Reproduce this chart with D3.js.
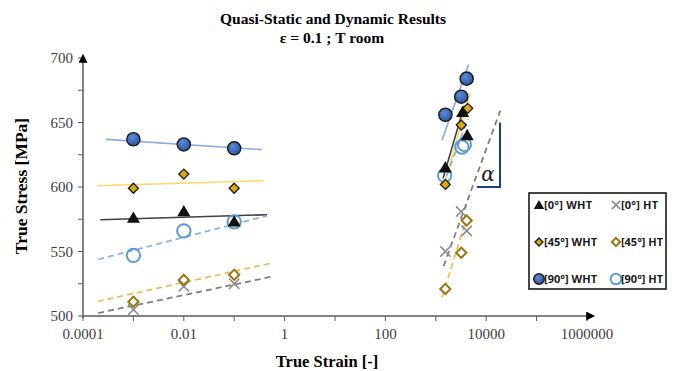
<!DOCTYPE html>
<html>
<head>
<meta charset="utf-8">
<script src="https://cdn.jsdelivr.net/npm/d3@7/dist/d3.min.js"></script>
<style>
  body { margin: 0; background: #fff; }
  text { font-family: "Liberation Serif", "Times New Roman", serif; }
</style>
</head>
<body>
<svg id="chart" width="675" height="371"></svg>
<script>
// ---- data (strain [-], stress [MPa]) ----
var strain0WHT = [0.001, 0.01, 0.1, 1550, 3400, 4200];
var stress0WHT = [576, 581, 573, 615, 658, 640];

var strain0HT = [0.001, 0.01, 0.1, 1550, 3200, 4100];
var stress0HT = [505, 523, 525, 550, 581, 566];

var strain45WHT = [0.001, 0.01, 0.1, 1550, 3200, 4300];
var stress45WHT = [599, 610, 599, 602, 648, 661];

var strain45HT = [0.001, 0.01, 0.1, 1550, 3200, 4100];
var stress45HT = [511, 528, 532, 521, 549, 574];

var strain90WHT = [0.001, 0.01, 0.1, 1550, 3200, 4100];
var stress90WHT = [637, 633, 630, 656, 670, 684];

var strain90HT = [0.001, 0.01, 0.1, 1500, 3300, 3700];
var stress90HT = [547, 566, 573, 609, 631, 633];

// trend lines, as [start, end] pairs for the quasi-static and dynamic ranges
var trend0WHT  = [[[2.2e-4, 574.6], [0.45, 578.5]], [[1390, 606.7], [3670, 663]]];
var trend0HT   = [[[2.0e-4, 502.3], [0.56, 530.5]], [[1430, 538.7], [19000, 659.2]]];
var trend45WHT = [[[1.9e-4, 601],   [0.38, 604.8]], [[1390, 599.2], [4840, 673.3]]];
var trend45HT  = [[[1.95e-4, 511.3], [0.52, 540.8]], [[1330, 514.4], [4470, 581]]];
var trend90WHT = [[[2.86e-4, 636.9], [0.355, 629]], [[1330, 636.2], [4470, 695]]];
var trend90HT  = [[[2.0e-4, 543.8], [0.45, 577.7]], [[1400, 601.5], [4350, 653]]];

// slope triangle beside the dynamic [0 deg] HT trend
var slopeBox = [[6500, 600], [18800, 600], [18800, 650]];
var slopeLabel = [10900, 605];

var xTickLabels = [1e-4, 1e-2, 1, 1e2, 1e4, 1e6];
var yTickLabels = [500, 550, 600, 650, 700];

var svg = d3.select("#chart");

var x = d3.scaleLog().domain([1e-4, 1e6]).range([83, 587]);
var y = d3.scaleLinear().domain([500, 700]).range([316, 58]);

// ---- titles ----
svg.append("text").attr("x", 333).attr("y", 24).attr("text-anchor", "middle")
  .style("font-weight", "bold").style("font-size", "15.5px")
  .text("Quasi-Static and Dynamic Results");
svg.append("text").attr("x", 332).attr("y", 43).attr("text-anchor", "middle")
  .style("font-weight", "bold").style("font-size", "15.5px")
  .text("\u03B5 = 0.1 ; T room");

svg.append("text").attr("x", 327).attr("y", 367).attr("text-anchor", "middle")
  .style("font-weight", "bold").style("font-size", "16.5px")
  .text("True Strain  [-]");
svg.append("text").attr("transform", "translate(27,186) rotate(-90)")
  .attr("text-anchor", "middle")
  .style("font-weight", "bold").style("font-size", "17.5px")
  .text("True Stress [MPa]");

// ---- axes ----
var axisCol = "#595959";
var defs = svg.append("defs");
defs.append("marker").attr("id", "arrow")
  .attr("viewBox", "0 0 10 10").attr("refX", 2).attr("refY", 5)
  .attr("markerWidth", 9).attr("markerHeight", 9).attr("orient", "auto")
  .attr("markerUnits", "userSpaceOnUse")
  .append("path").attr("d", "M0,0L10,5L0,10z").attr("fill", "#000");

var axes = svg.append("g");
// y axis minor + major ticks (left side)
d3.range(500, 701, 25).forEach(function (v) {
  axes.append("line").attr("x1", x(1e-4) - 5).attr("x2", x(1e-4))
    .attr("y1", y(v)).attr("y2", y(v)).attr("stroke", axisCol).attr("stroke-width", 1);
});
// x axis ticks at every decade plus log minors
x.ticks().forEach(function (v) {
  var isDecade = Math.abs(Math.log10(v) - Math.round(Math.log10(v))) < 1e-6;
  axes.append("line").attr("x1", x(v)).attr("x2", x(v))
    .attr("y1", y(500)).attr("y2", y(500) + (isDecade ? 5 : 3))
    .attr("stroke", axisCol).attr("stroke-width", 1);
});
axes.append("line").attr("x1", x(1e-4)).attr("x2", x(1e6) + 1)
  .attr("y1", y(500)).attr("y2", y(500))
  .attr("stroke", axisCol).attr("stroke-width", 1.5).attr("marker-end", "url(#arrow)");
axes.append("line").attr("x1", x(1e-4)).attr("x2", x(1e-4))
  .attr("y1", y(500) + 2).attr("y2", y(700) + 3)
  .attr("stroke", axisCol).attr("stroke-width", 1.5).attr("marker-end", "url(#arrow)");

axes.selectAll(".ylab").data(yTickLabels).enter().append("text")
  .attr("x", x(1e-4) - 10).attr("y", function (d) { return y(d) + 5; })
  .attr("text-anchor", "end").style("font-size", "15px").attr("fill", "#404040")
  .text(function (d) { return d; });

axes.selectAll(".xlab").data(xTickLabels).enter().append("text")
  .attr("x", function (d) { return x(d); }).attr("y", y(500) + 23)
  .attr("text-anchor", "middle").style("font-size", "15px").attr("fill", "#404040")
  .text(function (d) { return d < 1 ? d3.format(".4~f")(d) : d3.format("d")(d); });

// ---- series styling ----
var series = [
  { name: "[0\u00B0] WHT", xs: strain0WHT, ys: stress0WHT, trend: trend0WHT, shape: "tri",
    lineCol: "#404040", dash: null },
  { name: "[0\u00B0] HT", xs: strain0HT, ys: stress0HT, trend: trend0HT, shape: "x",
    lineCol: "#7f7f7f", dash: "6,4" },
  { name: "[45\u00B0] WHT", xs: strain45WHT, ys: stress45WHT, trend: trend45WHT, shape: "dia",
    lineCol: "#ffd966", dash: null },
  { name: "[45\u00B0] HT", xs: strain45HT, ys: stress45HT, trend: trend45HT, shape: "odia",
    lineCol: "#e8c060", dash: "6,4" },
  { name: "[90\u00B0] WHT", xs: strain90WHT, ys: stress90WHT, trend: trend90WHT, shape: "circ",
    lineCol: "#8faadc", dash: null },
  { name: "[90\u00B0] HT", xs: strain90HT, ys: stress90HT, trend: trend90HT, shape: "ocirc",
    lineCol: "#8db3e2", dash: "6,4" }
];

var line = d3.line().x(function (d) { return x(d[0]); }).y(function (d) { return y(d[1]); });

// trend lines first
var trends = svg.append("g");
series.forEach(function (s) {
  s.trend.forEach(function (seg) {
    trends.append("path").attr("d", line(seg)).attr("fill", "none")
      .attr("stroke", s.lineCol).attr("stroke-width", s.dash ? 1.8 : 1.6)
      .attr("stroke-dasharray", s.dash);
  });
});

// marker drawing
var grad = defs.append("radialGradient").attr("id", "blueBall").attr("cx", "40%").attr("cy", "35%").attr("r", "65%");
grad.append("stop").attr("offset", "0%").attr("stop-color", "#5d8ad6");
grad.append("stop").attr("offset", "100%").attr("stop-color", "#2b569f");

function drawMarker(g, shape, cx, cy, k) {
  k = k || 1;
  if (shape === "tri") {
    g.append("path").attr("d", d3.symbol(d3.symbolTriangle, 74 * k * k)())
      .attr("transform", "translate(" + cx + "," + (cy + 1) + ")").attr("fill", "#111");
  } else if (shape === "x") {
    var r = 5.2 * k;
    g.append("path").attr("d", "M" + (cx - r) + "," + (cy - r) + "L" + (cx + r) + "," + (cy + r) +
      "M" + (cx - r) + "," + (cy + r) + "L" + (cx + r) + "," + (cy - r))
      .attr("stroke", "#8c8c8c").attr("stroke-width", 1.6).attr("fill", "none");
  } else if (shape === "dia") {
    g.append("path").attr("d", d3.symbol(d3.symbolSquare, 50 * k * k)())
      .attr("transform", "translate(" + cx + "," + cy + ") rotate(45)")
      .attr("fill", "#d9a90f").attr("stroke", "#1a1a1a").attr("stroke-width", 1.3);
  } else if (shape === "odia") {
    g.append("path").attr("d", d3.symbol(d3.symbolSquare, 52 * k * k)())
      .attr("transform", "translate(" + cx + "," + cy + ") rotate(45)")
      .attr("fill", "#fff").attr("stroke", "#9a7512").attr("stroke-width", 2);
  } else if (shape === "circ") {
    g.append("circle").attr("cx", cx).attr("cy", cy).attr("r", 6.6 * k)
      .attr("fill", "url(#blueBall)").attr("stroke", "#1a1a1a").attr("stroke-width", 1.4);
  } else if (shape === "ocirc") {
    g.append("circle").attr("cx", cx).attr("cy", cy).attr("r", 6.7 * k)
      .attr("fill", "none").attr("stroke", "#5b9bd5").attr("stroke-width", 2);
  }
}

var drawOrder = [1, 3, 4, 5, 2, 0];
var marks = svg.append("g");
drawOrder.forEach(function (i) {
  var s = series[i];
  s.xs.forEach(function (v, j) {
    drawMarker(marks, s.shape, x(v), y(s.ys[j]));
  });
});

// slope annotation
svg.append("path").attr("d", line(slopeBox))
  .attr("fill", "none").attr("stroke", "#1f3b84").attr("stroke-width", 2);
svg.append("text").attr("x", x(slopeLabel[0])).attr("y", y(slopeLabel[1]))
  .attr("text-anchor", "middle").style("font-size", "20px").style("font-style", "italic")
  .attr("fill", "#1a1a1a").style("font-family", "'DejaVu Serif', serif").text("\u03B1");

// ---- legend ----
var lg = svg.append("g");
lg.append("rect").attr("x", 529).attr("y", 193).attr("width", 137).attr("height", 96)
  .attr("fill", "#fff").attr("stroke", "#1a1a1a").attr("stroke-width", 1.6);
var legendRows = [205, 242, 279];
var legendCols = [539, 616];
series.forEach(function (s, i) {
  var cx = legendCols[i % 2], cy = legendRows[Math.floor(i / 2)];
  drawMarker(lg, s.shape, cx, cy, 0.8);
  lg.append("text").attr("x", cx + 5).attr("y", cy + 4)
    .style("font-family", "'Open Sans', 'Liberation Sans', sans-serif")
    .style("font-size", "11px").style("font-weight", "bold").attr("fill", "#1a1a1a")
    .attr("textLength", s.name.indexOf("W") > 0 ? (s.name.length > 8 ? 53 : 48) : (s.name.length > 7 ? 42 : 37))
    .text(s.name);
});
</script>
</body>
</html>
